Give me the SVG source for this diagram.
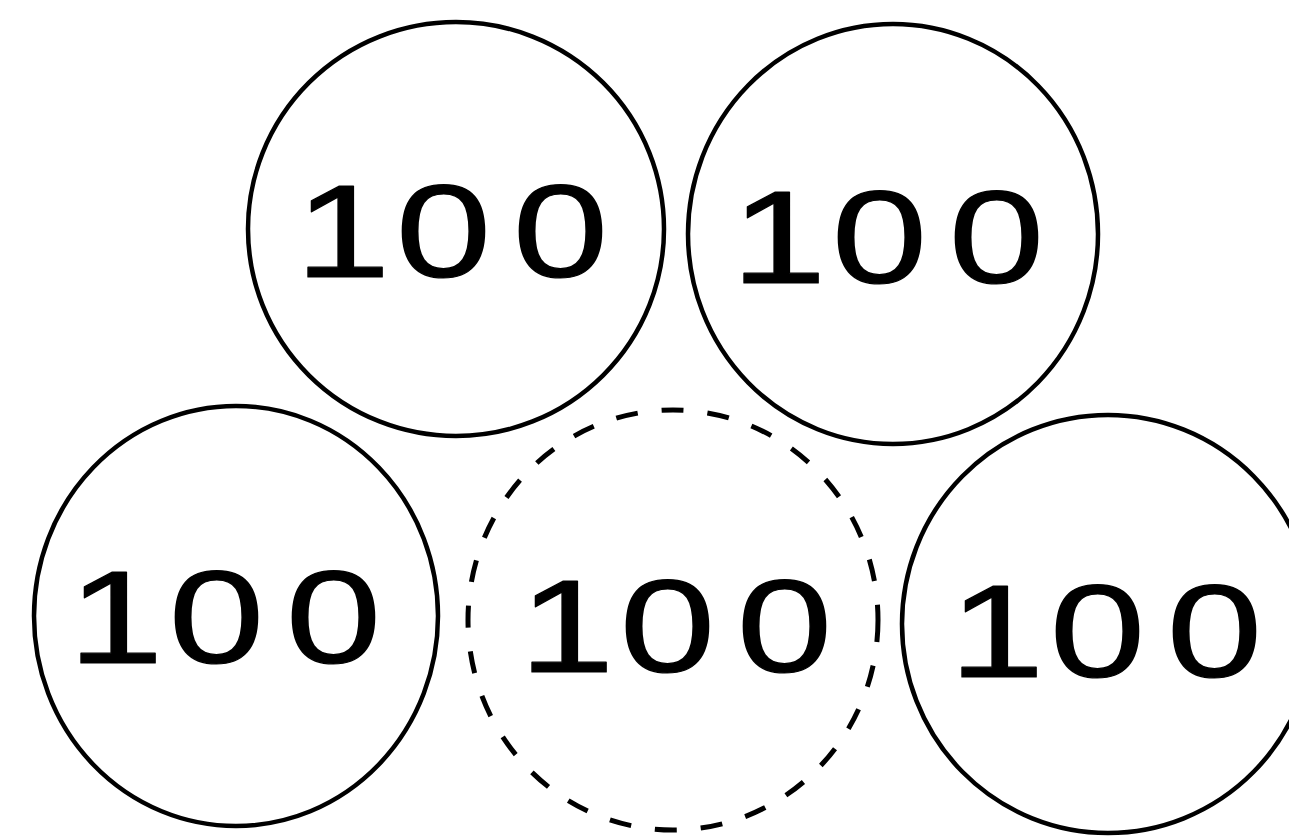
<svg xmlns="http://www.w3.org/2000/svg" width="1289" height="836" viewBox="0 0 1289 836">
<style>
.c{fill:none;stroke:#000;stroke-width:4.5}
.d{fill:none;stroke:#000;stroke-width:5;stroke-dasharray:22 24}
.t{font-family:"Liberation Sans",Arial,sans-serif;font-size:132px;fill:#000;stroke:#000;stroke-width:1.2;stroke-linejoin:round}
</style>
<rect width="1289" height="836" fill="#fff"/>
<g id="connectors"/>
<g id="n1"><ellipse class="c" cx="456" cy="229" rx="208" ry="207"/><text class="t" transform="translate(464,277) scale(1.3,1)" x="-130 -52.5 37.5" y="0">100</text></g>
<g id="n2"><ellipse class="c" cx="893" cy="234" rx="205" ry="210"/><text class="t" transform="translate(900,283) scale(1.3,1)" x="-130 -52.5 37.5" y="0">100</text></g>
<g id="n3"><ellipse class="c" cx="236" cy="616" rx="202" ry="210"/><text class="t" transform="translate(237,663) scale(1.3,1)" x="-130 -52.5 37.5" y="0">100</text></g>
<g id="n4"><ellipse class="d" cx="673" cy="620" rx="205" ry="210"/><text class="t" transform="translate(688,672) scale(1.3,1)" x="-130 -52.5 37.5" y="0">100</text></g>
<g id="n5"><ellipse class="c" cx="1108" cy="624" rx="206" ry="209"/><text class="t" transform="translate(1118,677) scale(1.3,1)" x="-130 -52.5 37.5" y="0">100</text></g>
</svg>
